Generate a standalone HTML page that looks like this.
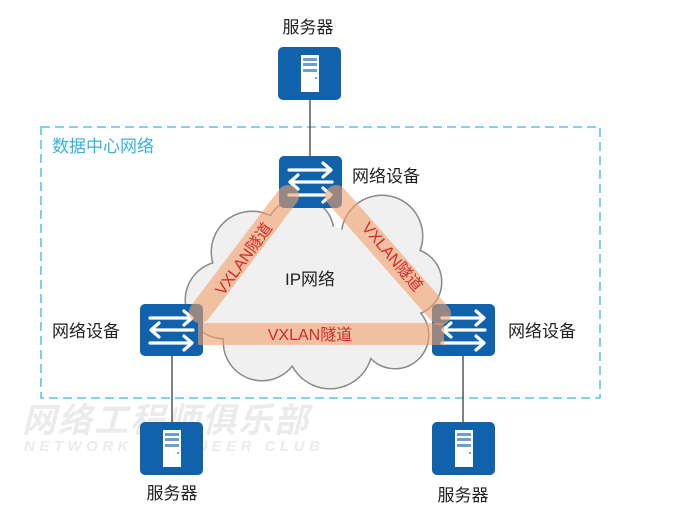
<!DOCTYPE html>
<html><head><meta charset="utf-8"><style>
html,body{margin:0;padding:0;background:#fff;}
svg{display:block;font-family:"Liberation Sans","Noto Sans CJK SC",sans-serif;}
</style></head><body>
<svg width="688" height="523" viewBox="0 0 688 523" xmlns="http://www.w3.org/2000/svg">
<defs>
<g id="sw">
<rect x="0" y="0" width="63" height="52" rx="5" fill="#0f62ab"/>
<g stroke="#fff" stroke-width="3.2" fill="none" stroke-linecap="round" stroke-linejoin="round">
<path d="M10 14 H52 M44 7 L52 14 L44 21"/>
<path d="M53 26 H11 M19 19 L11 26 L19 33"/>
<path d="M10 39 H52 M44 32 L52 39 L44 46"/>
</g>
</g>
<g id="sv">
<rect x="0" y="0" width="63" height="53" rx="5" fill="#0f62ab"/>
<rect x="23" y="8" width="18" height="37" fill="#fff"/>
<rect x="25" y="11" width="14" height="3" fill="#6a9fd0"/>
<rect x="25" y="16" width="14" height="3" fill="#6a9fd0"/>
<rect x="25" y="22" width="14" height="3" fill="#6a9fd0"/>
<rect x="37" y="30" width="2" height="2" fill="#6a9fd0"/>
</g>
</defs>
<text x="22" y="432" font-size="34" font-weight="bold" font-style="italic" fill="#ebebeb" letter-spacing="2">网络工程师俱乐部</text>
<text x="24" y="451" font-size="15" font-weight="bold" font-style="italic" fill="#ebebeb" letter-spacing="4.5">NETWORK ENGINEER CLUB</text>
<rect x="41" y="127" width="559" height="271" fill="none" stroke="#37b8e8" stroke-width="1.3" stroke-dasharray="9,5"/>
<text x="52" y="152" font-size="17" fill="#37b0e6">数据中心网络</text>
<g stroke="#555" stroke-width="1.5">
<line x1="310" y1="100" x2="310" y2="157"/>
<line x1="172" y1="356" x2="172" y2="422"/>
<line x1="463" y1="356" x2="463" y2="422"/>
</g>
<g fill="none" stroke="#8a8a8a" stroke-width="3">
<circle cx="252" cy="252" r="40"/><circle cx="224" cy="300" r="38"/><circle cx="300" cy="232" r="33"/>
<circle cx="382" cy="236" r="40"/><circle cx="408" cy="282" r="33"/><circle cx="395" cy="335" r="33"/>
<circle cx="330" cy="346" r="42"/><circle cx="262" cy="342" r="38"/>
</g>
<g fill="#f0f0f0">
<circle cx="252" cy="252" r="40"/><circle cx="224" cy="300" r="38"/><circle cx="300" cy="232" r="33"/>
<circle cx="382" cy="236" r="40"/><circle cx="408" cy="282" r="33"/><circle cx="395" cy="335" r="33"/>
<circle cx="330" cy="346" r="42"/><circle cx="262" cy="342" r="38"/><circle cx="315" cy="290" r="66"/>
<circle cx="375" cy="300" r="32"/>
</g>
<use href="#sv" x="278" y="47"/>
<use href="#sw" x="279" y="156"/>
<use href="#sw" x="140" y="304"/>
<use href="#sw" x="432" y="304"/>
<use href="#sv" x="140" y="422"/>
<use href="#sv" x="432" y="422"/>
<g stroke="#f2a06a" stroke-opacity="0.6" stroke-width="22" stroke-linecap="round">
<line x1="288" y1="196" x2="200" y2="312"/>
<line x1="336" y1="196" x2="440" y2="314"/>
</g>
<rect x="198" y="323" width="246" height="22" fill="#f2a06a" fill-opacity="0.6"/>
<g fill="#d42a2a" font-size="16">
<text x="310" y="340" text-anchor="middle">VXLAN隧道</text>
<text transform="translate(244,259) rotate(-54)" text-anchor="middle" y="5">VXLAN隧道</text>
<text transform="translate(392,257) rotate(50)" text-anchor="middle" y="5">VXLAN隧道</text>
</g>
<text x="310" y="285" font-size="17" fill="#222" text-anchor="middle">IP网络</text>
<g font-size="17" fill="#222">
<text x="308" y="33" text-anchor="middle">服务器</text>
<text x="352" y="182">网络设备</text>
<text x="52" y="337">网络设备</text>
<text x="508" y="337">网络设备</text>
<text x="172" y="499" text-anchor="middle">服务器</text>
<text x="463" y="501" text-anchor="middle">服务器</text>
</g>
</svg>
</body></html>
